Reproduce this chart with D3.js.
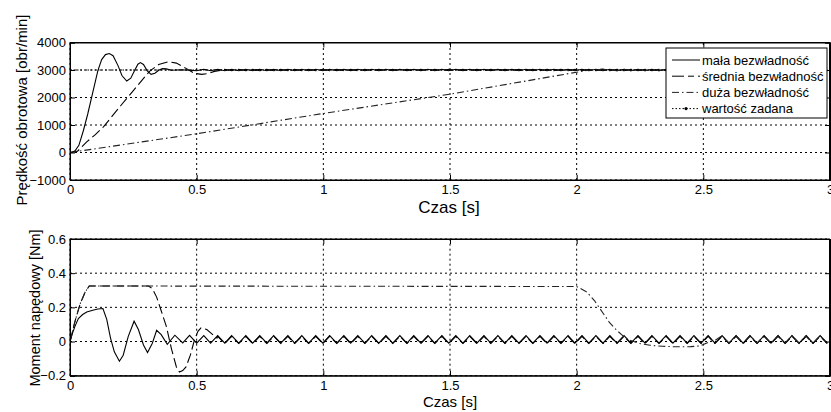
<!DOCTYPE html>
<html>
<head>
<meta charset="utf-8">
<script src="https://cdn.jsdelivr.net/npm/d3@7"></script>
<style>
  body { margin: 0; background: #fff; }
  svg { display: block; font-family: "Liberation Sans", Arial, sans-serif; }
</style>
</head>
<body>
<svg width="831" height="412"></svg>
<script>
// ---- data ----
var xTicks = [0, 0.5, 1, 1.5, 2, 2.5, 3];
var speedTicks = [-1000, 0, 1000, 2000, 3000, 4000];
var torqueTicks = [-0.2, 0, 0.2, 0.4, 0.6];

var seriesNames = ["mała bezwładność", "średnia bezwładność", "duża bezwładność", "wartość zadana"];

// steady-state ripple: trough and peak times [s]
var troughT = [0.500, 0.555, 0.611, 0.666, 0.721, 0.777, 0.832, 0.887, 0.942, 0.998,
  1.053, 1.108, 1.164, 1.219, 1.274, 1.330, 1.385, 1.440, 1.495, 1.551,
  1.606, 1.661, 1.717, 1.772, 1.827, 1.883, 1.938, 1.993, 2.048, 2.104,
  2.159, 2.214, 2.270, 2.325, 2.380, 2.436, 2.491, 2.546, 2.601, 2.657,
  2.712, 2.767, 2.823, 2.878, 2.933, 2.989];
var peakT = [0.528, 0.583, 0.638, 0.694, 0.749, 0.804, 0.860, 0.915, 0.970, 1.025,
  1.081, 1.136, 1.191, 1.247, 1.302, 1.357, 1.413, 1.468, 1.523, 1.578,
  1.634, 1.689, 1.744, 1.800, 1.855, 1.910, 1.966, 2.021, 2.076, 2.131,
  2.187, 2.242, 2.297, 2.353, 2.408, 2.463, 2.519, 2.574, 2.629, 2.684,
  2.740, 2.795, 2.850, 2.906, 2.961];

// speed [obr/min] transients
var speedSmall = [[0,0],[0.01,15],[0.02,60],[0.035,260],[0.053,800],[0.07,1400],[0.092,2265],
  [0.11,2980],[0.125,3380],[0.14,3560],[0.155,3600],[0.17,3520],[0.19,3150],[0.205,2800],
  [0.224,2600],[0.24,2700],[0.255,2980],[0.268,3210],[0.278,3270],[0.29,3200],[0.305,2970],
  [0.32,2840],[0.335,2880],[0.35,2990],[0.365,3050],[0.38,3040],[0.4,2990],[0.44,3010],[0.47,2990]];
var speedMedium = [[0,0],[0.03,50],[0.066,385],[0.1,650],[0.132,930],[0.2,1700],[0.25,2250],
  [0.3,2800],[0.316,2970],[0.35,3200],[0.388,3300],[0.42,3250],[0.46,3050],[0.49,2880],
  [0.52,2840],[0.545,2870],[0.57,2950],[0.6,3000]];
var speedLarge = [[0,0],[0.5,680],[1,1420],[1.5,2120],[2.0,2920],[2.05,3000],[2.1,3030],[2.15,2980]];
var speedSet = [[0,3000],[3,3000]];
var speedLow = 2975, speedHigh = 3025;

// torque [Nm] transients
var torqueSmall = [[0,0],[0.01,0.05],[0.02,0.09],[0.033,0.134],[0.05,0.158],[0.066,0.173],
  [0.09,0.183],[0.11,0.19],[0.13,0.193],[0.145,0.13],[0.16,0.02],[0.175,-0.06],[0.195,-0.115],
  [0.21,-0.08],[0.23,0.03],[0.253,0.119],[0.27,0.07],[0.29,-0.02],[0.306,-0.064],[0.325,-0.01],
  [0.342,0.066],[0.36,0.04],[0.384,-0.016],[0.414,0.037],[0.445,-0.008],[0.472,0.036]];
var torqueMedium = [[0,0],[0.02,0.12],[0.04,0.22],[0.06,0.29],[0.076,0.325],[0.31,0.325],
  [0.325,0.31],[0.342,0.26],[0.36,0.18],[0.381,0.085],[0.4,-0.04],[0.42,-0.149],[0.432,-0.178],
  [0.445,-0.17],[0.458,-0.149],[0.475,-0.08],[0.491,0.008],[0.505,0.06],[0.517,0.08],
  [0.54,0.07],[0.56,0.045],[0.58,0.02]];
var torqueLarge = [[0,0],[0.02,0.12],[0.04,0.22],[0.06,0.29],[0.076,0.325],[2.0,0.322],
  [2.04,0.29],[2.07,0.24],[2.105,0.164],[2.13,0.11],[2.158,0.066],[2.185,0.03],[2.21,0.008],
  [2.25,-0.012],[2.29,-0.022],[2.34,-0.028],[2.395,-0.031],[2.45,-0.03],[2.487,-0.026],
  [2.526,0],[2.55,0.01]];
var torqueLow = -0.01, torqueHigh = 0.035;
var torqueLowMed = -0.012, torqueHighMed = 0.03;

// ---- helpers ----
function withRipple(points, lo, hi) {
  var tEnd = points[points.length - 1][0];
  var extra = [];
  troughT.forEach(function(t) { if (t > tEnd) extra.push([t, lo]); });
  peakT.forEach(function(t) { if (t > tEnd) extra.push([t, hi]); });
  extra.sort(function(a, b) { return a[0] - b[0]; });
  return points.concat(extra);
}

var svg = d3.select("svg");
var x = d3.scaleLinear().domain([0, 3]).range([70, 830]);

var styles = [
  { dash: null, color: "#000" },
  { dash: "10,4", color: "#000" },
  { dash: "7,3,1.5,3", color: "#222" },
  { dash: "1.5,2", color: "#000" }
];

function drawPanel(id, y, ticks, fmt, series) {
  var g = svg.append("g");
  var x0 = x.range()[0], x1 = x.range()[1];
  var y0 = y.range()[0], y1 = y.range()[1];

  svg.append("clipPath").attr("id", id)
    .append("rect").attr("x", x0).attr("y", y1).attr("width", x1 - x0).attr("height", y0 - y1);

  // grid
  g.selectAll(".vg").data(xTicks).enter().append("line")
    .attr("x1", function(d) { return x(d); }).attr("x2", function(d) { return x(d); })
    .attr("y1", y0).attr("y2", y1)
    .attr("stroke", "#000").attr("stroke-width", 1).attr("stroke-dasharray", "2,3");
  g.selectAll(".hg").data(ticks).enter().append("line")
    .attr("x1", x0).attr("x2", x1)
    .attr("y1", function(d) { return y(d); }).attr("y2", function(d) { return y(d); })
    .attr("stroke", "#000").attr("stroke-width", 1).attr("stroke-dasharray", "2,3");

  // series
  var line = d3.line().x(function(d) { return x(d[0]); }).y(function(d) { return y(d[1]); });
  var lines = g.append("g").attr("clip-path", "url(#" + id + ")");
  series.forEach(function(s, i) {
    lines.append("path").datum(s)
      .attr("d", line).attr("fill", "none")
      .attr("stroke", styles[i].color).attr("stroke-width", 1.1)
      .attr("stroke-dasharray", styles[i].dash);
  });

  // axes
  g.append("g").attr("transform", "translate(0," + y0 + ")")
    .call(d3.axisBottom(x).tickValues(xTicks).tickSize(-5).tickPadding(5).tickFormat(d3.format("")));
  g.append("g").attr("transform", "translate(0," + y1 + ")")
    .call(d3.axisTop(x).tickValues(xTicks).tickSize(-5).tickFormat(""));
  g.append("g").attr("transform", "translate(" + x0 + ",0)")
    .call(d3.axisLeft(y).tickValues(ticks).tickSize(-5).tickPadding(4).tickFormat(fmt));
  g.append("g").attr("transform", "translate(" + x1 + ",0)")
    .call(d3.axisRight(y).tickValues(ticks).tickSize(-5).tickFormat(""));
  g.selectAll(".domain").attr("stroke", "#000");
  g.selectAll(".tick line").attr("stroke", "#000");
  g.selectAll(".tick text").attr("font-size", 13).attr("fill", "#000")
    .attr("font-family", "Liberation Sans, Arial, sans-serif");
  g.append("rect").attr("x", x0).attr("y", y1).attr("width", x1 - x0 - 0.5).attr("height", y0 - y1)
    .attr("fill", "none").attr("stroke", "#000").attr("stroke-width", 1);
  return g;
}

// top panel: speed
var ySpeed = d3.scaleLinear().domain([-1000, 4000]).range([180, 42.5]);
drawPanel("clipTop", ySpeed, speedTicks, d3.format(""), [
  withRipple(speedSmall, speedLow, speedHigh),
  withRipple(speedMedium, speedHigh, speedLow),
  withRipple(speedLarge, speedLow, speedHigh),
  speedSet
]);

// bottom panel: torque
var yTorque = d3.scaleLinear().domain([-0.2, 0.6]).range([375.7, 239]);
drawPanel("clipBot", yTorque, torqueTicks, d3.format(""), [
  withRipple(torqueSmall, torqueLow, torqueHigh),
  withRipple(torqueMedium, torqueLowMed, torqueHighMed),
  withRipple(torqueLarge, torqueLow, torqueHigh)
]);

// axis titles
svg.append("text").attr("x", 449).attr("y", 213).attr("text-anchor", "middle")
  .attr("font-size", 17).text("Czas [s]");
svg.append("text").attr("x", 450).attr("y", 407).attr("text-anchor", "middle")
  .attr("font-size", 15).text("Czas [s]");
svg.append("text").attr("transform", "translate(27,110) rotate(-90)").attr("text-anchor", "middle")
  .attr("font-size", 15).text("Prędkość obrotowa [obr/min]");
svg.append("text").attr("transform", "translate(40,308) rotate(-90)").attr("text-anchor", "middle")
  .attr("font-size", 14.5).text("Moment napędowy [Nm]");

// legend
var leg = svg.append("g");
leg.append("rect").attr("x", 666).attr("y", 48).attr("width", 161).attr("height", 70)
  .attr("fill", "#fff").attr("stroke", "#000").attr("stroke-width", 1);
seriesNames.forEach(function(name, i) {
  var yy = 60 + i * 16.2;
  leg.append("line").attr("x1", 672).attr("x2", 700).attr("y1", yy).attr("y2", yy)
    .attr("stroke", styles[i].color).attr("stroke-width", 1)
    .attr("stroke-dasharray", i === 1 ? "12,4,6,4" : i === 2 ? "7,3,1.5,3" : styles[i].dash);
  if (i === 3) leg.append("circle").attr("cx", 686).attr("cy", yy).attr("r", 1.6).attr("fill", "#000");
  leg.append("text").attr("x", 702).attr("y", yy + 4.5).attr("font-size", 13).text(name);
});
</script>
</body>
</html>
